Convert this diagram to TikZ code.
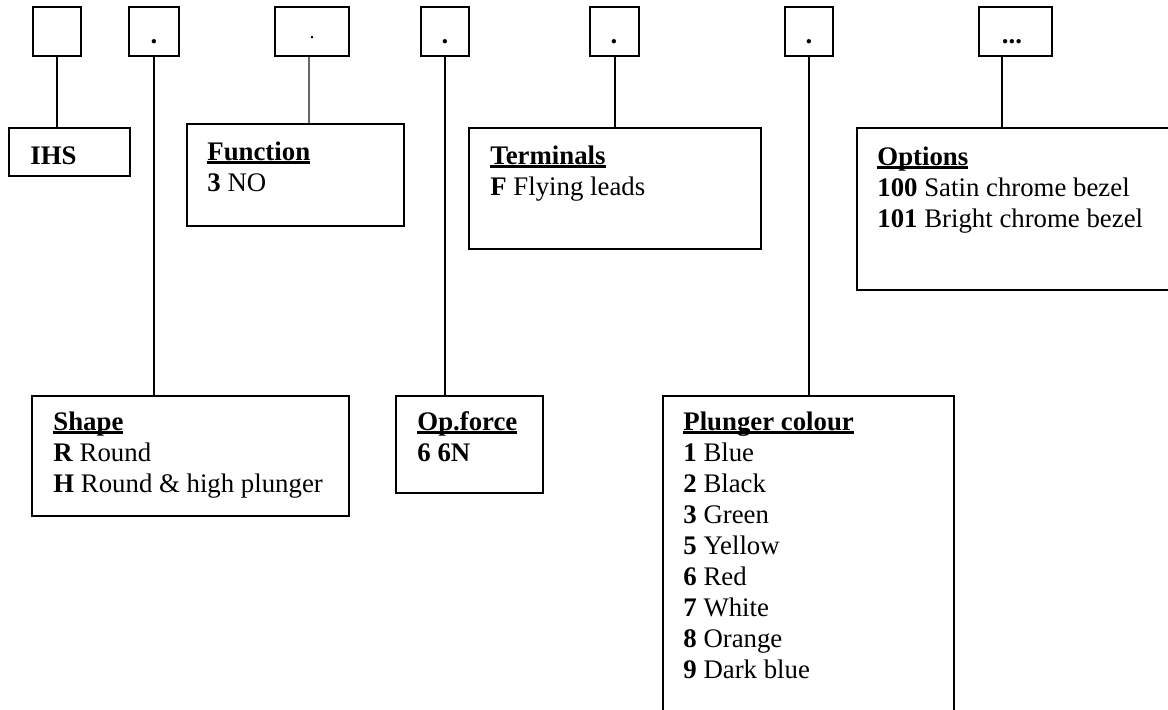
\documentclass[tikz,border=0pt]{standalone}
\usepackage{fontspec}
\setmainfont{Liberation Serif}
\usetikzlibrary{fit,calc}
\newcommand\hdr[1]{\setbox0\hbox{\textbf{#1}}\rlap{\rule[-1.8pt]{\wd0}{1.1pt}}\box0}
\newcommand\mlines[1]{\begin{tabular}[t]{@{}l@{}}#1\end{tabular}}
\begin{document}
\begin{tikzpicture}[x=0.5pt,y=-0.5pt,
  box/.style={draw, line width=1.1pt, inner sep=0pt},
  conn/.style={line width=1pt},
  thinconn/.style={line width=0.6pt, draw=black!60},
  txt/.style={anchor=base west, inner sep=0pt, font=\fontsize{13.4}{15.5}\selectfont},
  dotmark/.style={anchor=base, inner sep=0pt, font=\fontsize{13.4}{15.5}\selectfont\bfseries}]
\useasboundingbox (0,0) rectangle (1168,709);
\clip (0,0) rectangle (1168,709);
% top code boxes
\node[box, fit={(33,7)(81,56)}] (t1) {};
\node[box, fit={(129,7)(179,56)}] (t2) {};
\node[box, fit={(275,7)(349,56)}] (t3) {};
\node[box, fit={(421,7)(469,56)}] (t4) {};
\node[box, fit={(590,7)(639,56)}] (t5) {};
\node[box, fit={(785,7)(833,56)}] (t6) {};
\node[box, fit={(979,7)(1052,56)}] (t7) {};
\node[dotmark] (d2) at (154,43) {.};
\node[dotmark, font=\fontsize{10}{11}\selectfont] (d3) at (312,38) {.};
\node[dotmark] (d4) at (445,43) {.};
\node[dotmark] (d5) at (614,43) {.};
\node[dotmark] (d6) at (809,43) {.};
\node[dotmark] (d7) at (1012,43) {...};
% description boxes
\node[box, fit={(9,128)(130,176)}] (ihs) {};
\node[box, fit={(187,124)(404,226)}] (func) {};
\node[box, fit={(469,128)(761,249)}] (term) {};
\node[box, fit={(857,128)(1190,290)}] (opts) {};
\node[box, fit={(32,396)(349,516)}] (shape) {};
\node[box, fit={(396,396)(543,493)}] (opf) {};
\node[box, fit={(663,396)(954,740)}] (plng) {};
% texts
\node[txt] (ihst) at (30,164) {\textbf{IHS}};
\node[txt] (funct) at (207,160) {\mlines{\hdr{Function}\\\textbf{3} NO}};
\node[txt] (termt) at (490,164) {\mlines{\hdr{Terminals}\\\textbf{F} Flying leads}};
\node[txt] (optst) at (877,165) {\mlines{\hdr{Options}\\\textbf{100} Satin chrome bezel\\\textbf{101} Bright chrome bezel}};
\node[txt] (shapet) at (53,430) {\mlines{\hdr{Shape}\\\textbf{R} Round\\\textbf{H} Round \& high plunger}};
\node[txt] (opft) at (417,430) {\mlines{\hdr{Op.force}\\\textbf{6 6N}}};
\node[txt] (plngt) at (683,430) {\mlines{\hdr{Plunger colour}\\\textbf{1} Blue\\\textbf{2} Black\\\textbf{3} Green\\\textbf{5} Yellow\\\textbf{6} Red\\\textbf{7} White\\\textbf{8} Orange\\\textbf{9} Dark blue}};
% connectors
\draw[conn] (t1.south) -- (t1.south |- ihs.north);
\draw[conn] (t2.south) -- (t2.south |- shape.north);
\coordinate (c3) at ([xshift=-1.5pt]t3.south);
\draw[thinconn] (c3) -- (c3 |- func.north);
\draw[conn] (t4.south) -- (t4.south |- opf.north);
\draw[conn] (t5.south) -- (t5.south |- term.north);
\draw[conn] (t6.south) -- (t6.south |- plng.north);
\coordinate (c7) at ([xshift=-6.75pt]t7.south);
\draw[conn] (c7) -- (c7 |- opts.north);
\end{tikzpicture}
\end{document}
